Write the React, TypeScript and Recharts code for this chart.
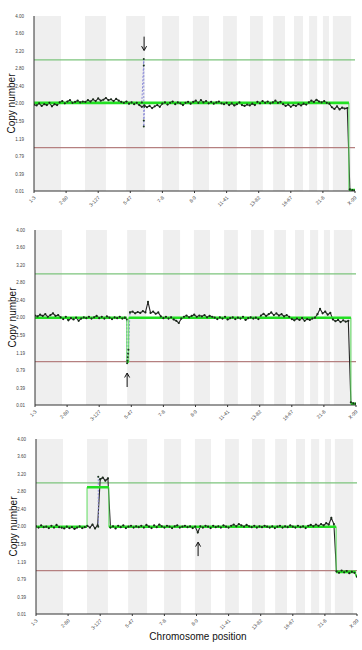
import React from 'react';
import {
  ComposedChart,
  Line,
  XAxis,
  YAxis,
  ReferenceArea,
  ReferenceLine,
  ReferenceDot,
  Label,
} from 'recharts';

// ---------- shared axis data ----------
const xTickPositions = [0, 100, 200, 300, 400, 500, 600, 700, 800, 900, 1000];
const xTickLabels = ['1-3', '2-80', '3-127', '5-47', '7-8', '8-9', '11-41', '13-82', '16-67', '21-8', 'X-99'];
const yTicks = [0.01, 0.39, 0.79, 1.19, 1.59, 2.0, 2.4, 2.8, 3.2, 3.6, 4.0];
// shaded chromosomes (probe index ranges)
const chromosomeBands = [
  [0, 84], [159, 224], [287, 346], [399, 452], [495, 545], [589, 632],
  [673, 713], [745, 782], [810, 838], [857, 882], [900, 919], [931, 988],
];
const gainThreshold = 3.0;
const lossThreshold = 1.0;
const probeStep = 8;

// ---------- panel A ----------
const rawA = [
  1.98, 1.96, 2.01, 1.95, 1.99, 1.97, 2.02, 1.94, 1.99, 1.97,
  2.03, 2.06, 2.01, 2.05, 2.08, 2.02, 2.04, 2.07, 2.03, 2.05,
  2.04, 2.08, 2.05, 2.10, 2.06, 2.12, 2.07, 2.09, 2.13, 2.08,
  2.10, 2.06, 2.11, 2.07, 2.04, 2.02, 2.05, 2.00, 2.03, 1.99, 2.02, 1.97,
  1.93, 1.96, 1.92, 1.95, 1.90, 1.94, 1.97, 1.93,
  2.00, 2.03, 1.98, 2.02, 2.05, 1.99, 2.03, 2.01, 1.97, 2.02, 2.04, 2.00,
  2.04, 2.07, 2.02, 2.08, 2.03, 2.06, 2.01, 2.04, 2.00, 2.03, 2.05, 2.01,
  1.99, 2.02, 1.97, 2.01, 1.96, 1.99, 2.03, 1.97, 1.95, 1.98, 1.96, 2.00, 1.97,
  2.04, 2.01, 2.06, 2.02, 2.05, 2.01, 2.03, 2.07, 2.02, 2.04,
  1.99, 1.95, 1.98, 1.93, 1.97, 1.95, 1.99, 1.96, 2.00, 1.98,
  2.03, 2.07, 2.04, 2.09, 2.05, 2.03, 2.06, 2.02, 2.00,
  1.92, 1.88, 1.94, 1.87, 1.91, 1.89, 1.90,
  0.05, 0.03, 0.02,
];
const segA = [[0, 981, 2.02], [981, 1000, 0.03]];
const breakA = [[336, 2.03], [342, 3.02], [342, 2.87], [342, 1.62], [342, 1.48], [344, 1.93]];
const arrowA = { x: 343, y: 3.37, dir: 'down' };

// ---------- panel B ----------
const rawB = [
  2.05, 2.03, 2.07, 2.04, 2.08, 2.02, 2.06, 2.10, 2.04, 2.06,
  2.01, 1.97, 2.02, 1.94, 1.99, 1.96, 2.00, 1.93, 1.98, 2.01,
  1.99, 2.02, 1.98, 2.01, 2.04, 1.99, 2.02, 1.98, 2.03, 2.00, 1.97, 2.01, 1.99, 2.02, 1.98, 2.00,
  null,
  2.12, 2.14, 2.10, 2.13, 2.11, 2.15, 2.12, 2.36, 2.11, 2.14, 2.09, 2.12,
  2.03, 1.99, 2.02, 1.98, 2.01, 1.96, 1.93, 1.88,
  1.98, 2.02, 2.05, 2.01, 2.04, 2.07, 2.02, 2.05, 2.03, 2.06, 2.01, 2.04, 2.02,
  2.00, 1.97, 2.01, 1.98, 2.02, 1.96, 1.99, 2.01, 1.97, 2.00, 1.98, 2.02, 1.95, 1.99, 2.01, 1.98, 2.00, 1.97,
  2.05, 2.09, 2.04, 2.08, 2.12, 2.06, 2.10, 2.05, 2.08, 2.03, 2.06, 2.02,
  1.97, 1.94, 1.98, 1.95, 1.99, 1.93, 1.97, 1.95, 1.98, 2.00,
  2.08, 2.20, 2.10, 2.14, 2.07, 2.11,
  1.96, 1.92, 1.95, 1.90, 1.94, 1.91, 1.93,
  0.07, 0.05, 0.04,
];
const segB = [[0, 286, 2.0], [286, 292, 1.0], [292, 984, 2.0], [984, 1000, 0.04]];
const breakB = [[280, 2.0], [286, 1.96], [287, 0.96], [288, 1.02], [289, 1.1], [290, 1.18], [291, 1.27], [296, 2.12]];
const arrowB = { x: 287, y: 0.58, dir: 'up' };

// ---------- panel C ----------
const rawC = [
  2.01, 1.98, 2.03, 1.99, 2.00, 1.97, 2.02, 1.98, 2.04, 1.99,
  1.98, 1.96, 2.00, 1.97, 1.99, 1.95, 1.98, 2.01, 1.97, 1.99,
  2.02, 1.98, 2.05, 1.96, 2.03,
  3.08, 3.12, 3.05, 3.10,
  1.98, 2.01, 1.96, 2.02, 1.99, 2.03, 1.97, 2.00, 2.02, 1.98, 2.01, 1.99,
  2.02, 1.98, 2.04, 2.00, 1.97, 2.03, 1.99, 2.05, 2.01, 1.98, 2.02, 2.00, 1.97, 2.01, 2.03, 1.98, 2.00, 2.02, 1.99, 2.01, 1.97, 2.00,
  1.87,
  2.01, 1.98, 2.02, 2.00, 1.97, 2.02, 1.99, 2.01, 1.98, 2.03, 2.00, 1.98, 2.02, 2.05, 2.01, 2.06, 2.03, 2.00, 2.04, 2.01, 1.99, 2.02, 1.98, 2.01, 1.99, 2.02, 2.00,
  1.98, 2.01, 1.97, 2.00, 2.02, 1.98, 2.01, 1.99, 2.03, 2.00, 1.98, 2.02, 1.99, 2.01, 1.97, 2.02, 2.04, 2.01, 2.05, 2.02, 2.06, 2.03,
  2.08, 2.05, 2.20,
  2.06,
  0.98, 0.95, 1.00, 0.96, 0.99, 0.94, 0.97, 0.95, 0.86,
];
const segC = [[0, 159, 2.0], [159, 227, 2.9], [227, 935, 2.0], [935, 996, 0.97], [996, 1000, 0.88]];
const breakC = [[194, 2.0], [194, 3.14], [200, 3.08]];
const arrowC = { x: 505, y: 1.49, dir: 'up' };

// ---------- helpers ----------
const toRaw = (vals: (number | null)[]) => vals.map((v, i) => ({ x: i * probeStep, y: v }));
const toThick = (segs: number[][]) =>
  segs.flatMap(([a, b, v]) => [{ x: a, y: v }, { x: b, y: v }, { x: b, y: null }]);
const toThin = (segs: number[][]) => segs.flatMap(([a, b, v]) => [{ x: a, y: v }, { x: b, y: v }]);
const toPts = (pts: number[][]) => pts.map(([x, y]) => ({ x, y }));

const FONT = '"Liberation Sans", Arial, sans-serif';

const XTick = (props: any) => {
  const { x, y, payload, index } = props;
  const i = xTickPositions.indexOf(payload.value);
  const label = xTickLabels[i >= 0 ? i : index] ?? '';
  return (
    <g transform={`translate(${x + 2},${y + 3})`}>
      <text x={0} y={0} textAnchor="end" transform="rotate(-45)" fontSize={5} fill="#444" fontFamily={FONT}>
        {label}
      </text>
    </g>
  );
};

const arrowShape = (dir: string) => (p: any) => {
  const { cx, cy } = p;
  if (cx == null || cy == null) return <g />;
  const d =
    dir === 'down'
      ? `M${cx},${cy - 7} L${cx},${cy + 6.5} M${cx - 2.5},${cy + 2.5} L${cx},${cy + 7} L${cx + 2.5},${cy + 2.5}`
      : `M${cx},${cy + 7} L${cx},${cy - 6.5} M${cx - 2.5},${cy - 2.5} L${cx},${cy - 7} L${cx + 2.5},${cy - 2.5}`;
  return <path d={d} stroke="#111" strokeWidth={1} fill="none" />;
};

type PanelProps = {
  top: number;
  left: number;
  height: number;
  bottom: number;
  raw: (number | null)[];
  segs: number[][];
  breaks: number[][];
  arrow: { x: number; y: number; dir: string };
  title?: boolean;
};

const Panel = ({ top, left, height, bottom, raw, segs, breaks, arrow, title }: PanelProps) => (
  <div style={{ position: 'absolute', top, left }}>
    <ComposedChart width={362} height={height} margin={{ top: 16, right: 6, left: 0, bottom }}>
      <XAxis
        dataKey="x"
        type="number"
        domain={[0, 1000]}
        ticks={xTickPositions}
        interval={0}
        allowDataOverflow
        tick={<XTick />}
        tickSize={2}
        tickLine={{ stroke: '#333' }}
        axisLine={{ stroke: '#333' }}
        height={20}
      >
        {title && (
          <Label
            content={(p: any) => {
              const vb = p.viewBox || { y: 191 };
              return (
                <text x={197} y={(vb.y ?? 191) + 26} textAnchor="middle" fontSize={10} fill="#111" fontFamily={FONT}>
                  Chromosome position
                </text>
              );
            }}
          />
        )}
      </XAxis>
      <YAxis
        type="number"
        domain={[0.01, 4.0]}
        ticks={yTicks}
        interval={0}
        allowDataOverflow
        width={35}
        tickLine={false}
        tickMargin={4}
        tick={{ fontSize: 4.5, fill: '#444', fontFamily: FONT }}
        tickFormatter={(v: number) => v.toFixed(2)}
        axisLine={{ stroke: '#333' }}
      >
        <Label
          content={(p: any) => {
            const vb = p.viewBox || { y: 16, height: 175 };
            const cy = (vb.y ?? 16) + (vb.height ?? 175) / 2;
            return (
              <text
                x={16}
                y={cy}
                transform={`rotate(-90, 16, ${cy})`}
                textAnchor="middle"
                fontSize={10}
                fill="#111"
                fontFamily={FONT}
              >
                Copy number
              </text>
            );
          }}
        />
      </YAxis>
      {chromosomeBands.map(([a, b], i) => (
        <ReferenceArea key={i} x1={a} x2={b} y1={0.01} y2={4.0} fill="#efefef" fillOpacity={1} stroke="none" />
      ))}
      <ReferenceLine y={gainThreshold} stroke="#7cc47c" strokeWidth={1.3} />
      <ReferenceLine y={lossThreshold} stroke="#b58080" strokeWidth={1.3} />
      <Line
        data={toRaw(raw)}
        dataKey="y"
        type="linear"
        stroke="#262626"
        strokeWidth={1.1}
        dot={{ r: 1.1, fill: '#1c2a1c', stroke: 'none' }}
        activeDot={false}
        isAnimationActive={false}
      />
      <Line
        data={toPts(breaks)}
        dataKey="y"
        type="linear"
        stroke="#8a8ad8"
        strokeWidth={1}
        strokeDasharray="2 1.5"
        dot={{ r: 1, fill: '#1c3a1c', stroke: 'none' }}
        activeDot={false}
        isAnimationActive={false}
      />
      <Line
        data={toThin(segs)}
        dataKey="y"
        type="linear"
        stroke="#5fdc5f"
        strokeWidth={1}
        dot={false}
        activeDot={false}
        isAnimationActive={false}
      />
      <Line
        data={toThick(segs)}
        dataKey="y"
        type="linear"
        stroke="#22e022"
        strokeWidth={2.6}
        dot={false}
        activeDot={false}
        connectNulls={false}
        isAnimationActive={false}
      />
      <ReferenceDot x={arrow.x} y={arrow.y} r={0} shape={arrowShape(arrow.dir)} />
    </ComposedChart>
  </div>
);

export default function App() {
  return (
    <div
      style={{
        position: 'absolute',
        left: 0,
        top: 0,
        width: 362,
        height: 650,
        background: '#fff',
        overflow: 'hidden',
      }}
    >
      <Panel top={0} left={-1} height={215} bottom={4} raw={rawA} segs={segA} breaks={breakA} arrow={arrowA} />
      <Panel top={214} left={0} height={215} bottom={4} raw={rawB} segs={segB} breaks={breakB} arrow={arrowB} />
      <Panel top={423} left={1} height={227} bottom={16} raw={rawC} segs={segC} breaks={breakC} arrow={arrowC} title />
    </div>
  );
}
